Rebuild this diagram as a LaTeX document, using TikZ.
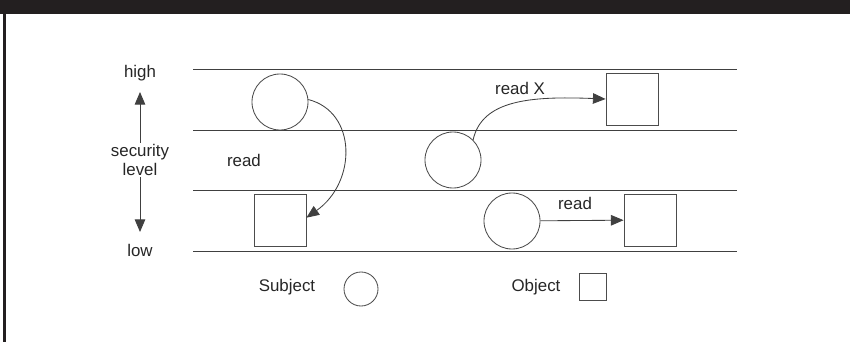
\documentclass[tikz,border=0pt]{standalone}
\usepackage{fontspec}
\setmainfont{Liberation Sans}
\usetikzlibrary{arrows.meta,positioning}
\definecolor{framegray}{HTML}{231F20}

\begin{document}
\begin{tikzpicture}[
  x=0.025cm,y=-0.025cm,
  subject/.style={circle,draw=black!70,line width=0.6pt,minimum size=1.4cm,inner sep=0pt},
  object/.style={rectangle,draw=black!70,line width=0.6pt,minimum size=1.3cm,inner sep=0pt},
  level/.style={draw=black!75,line width=0.6pt},
  lbl/.style={font=\fontsize{12}{13}\selectfont,text=black!85,inner sep=1pt},
  flow/.style={->,draw=black!75,line width=0.6pt},
  >={Triangle[length=9pt,width=7.5pt]}
]
  \useasboundingbox (0,0) rectangle (850,342);

  % Frame
  \fill[framegray] (0,0) rectangle (850,14);
  \fill[framegray] (3,14) rectangle (6,342);

  % Security levels
  \foreach \y in {69,130,190,251}
    \draw[level] (193,\y) -- (737,\y);

  % Level scale
  \node[lbl] (high) at (140,73) {high};
  \node[lbl] (low) at (140,250) {low};
  \node[lbl,align=center] (sec) at (140,160) {security\\level};
  \coordinate (up) at (140,92);
  \coordinate (down) at (140,232);
  \draw[flow] (sec.north) -- (up);
  \draw[flow] (sec.south) -- (down);

  % Subjects and objects
  \node[subject] (s1) at (280,102) {};
  \node[subject] (s2) at (453,160) {};
  \node[subject] (s3) at (512,221) {};
  \node[object] (o1) at (280,220) {};
  \node[object] (o2) at (632,99) {};
  \node[object] (o3) at (650,220) {};

  % Accesses
  \draw[flow] (s1.5) .. controls (357,112) and (357,182) .. (o1.5);
  \draw[flow] (s2.45) .. controls (482,100) and (530,96) .. (o2.west);
  \draw[flow] (s3) -- (o3);
  \node[lbl] (r1) at (244,160) {read};
  \node[lbl] (r2) at (520,88) {read X};
  \node[lbl] (r3) at (575,203) {read};

  % Legend
  \node[lbl] (subjlbl) at (287,287) {Subject};
  \node[subject,minimum size=0.85cm] (subjkey) at (361,289) {};
  \node[lbl] (objlbl) at (536,287) {Object};
  \node[object,minimum size=0.675cm] (objkey) at (593,287) {};
\end{tikzpicture}
\end{document}
